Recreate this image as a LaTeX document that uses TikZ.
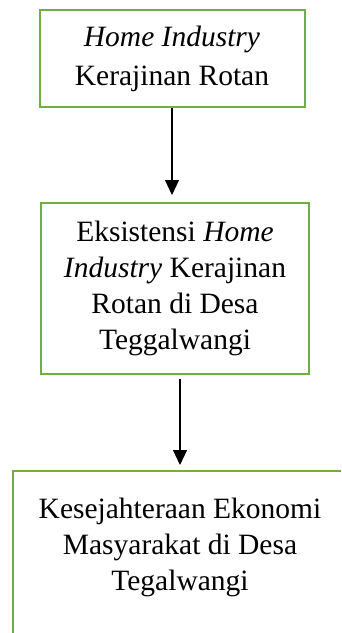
\documentclass[tikz,border=0pt]{standalone}
\usepackage{fontspec}
\setmainfont{Liberation Serif}
\usetikzlibrary{positioning,arrows.meta}
\definecolor{boxgreen}{HTML}{70AD47}
\tikzset{
  flowbox/.style={draw=boxgreen, line width=2pt, inner sep=0pt, align=center,
    font=\fontsize{29.5}{36}\selectfont},
  flowarrow/.style={-{Triangle[length=15pt,width=14pt]}, line width=1.1pt}
}
\begin{document}
\begin{tikzpicture}[x=1pt,y=-1pt]
    \useasboundingbox (0,0) rectangle (341,633);
    \clip (0,0) rectangle (341,633);

    % Box 1
    \node[flowbox, minimum width=265pt, minimum height=97pt,
        font=\fontsize{29.5}{39}\selectfont] (b1) at (172,58.5)
        {\textit{Home Industry}\\Kerajinan Rotan};

    % Box 2
    \node[flowbox, minimum width=268pt, minimum height=171pt] (b2) at (175,288.5)
        {Eksistensi \textit{Home}\\\textit{Industry} Kerajinan\\Rotan di Desa\\Teggalwangi};

    % Box 3 (runs off the page)
    \node[flowbox, minimum width=334pt, minimum height=220pt, anchor=north] (b3) at (180,470) {};
    \node[flowbox, draw=none, anchor=north] (b3text) at (180,497)
        {Kesejahteraan Ekonomi\\Masyarakat di Desa\\Tegalwangi};

    % Arrows
    \draw[flowarrow, shorten >=7pt] (b1.south) -- (b1.south |- b2.north);
    \draw[flowarrow, shorten <=4pt, shorten >=5pt] (b2.south -| b3.north) -- (b3.north);
\end{tikzpicture}
\end{document}
